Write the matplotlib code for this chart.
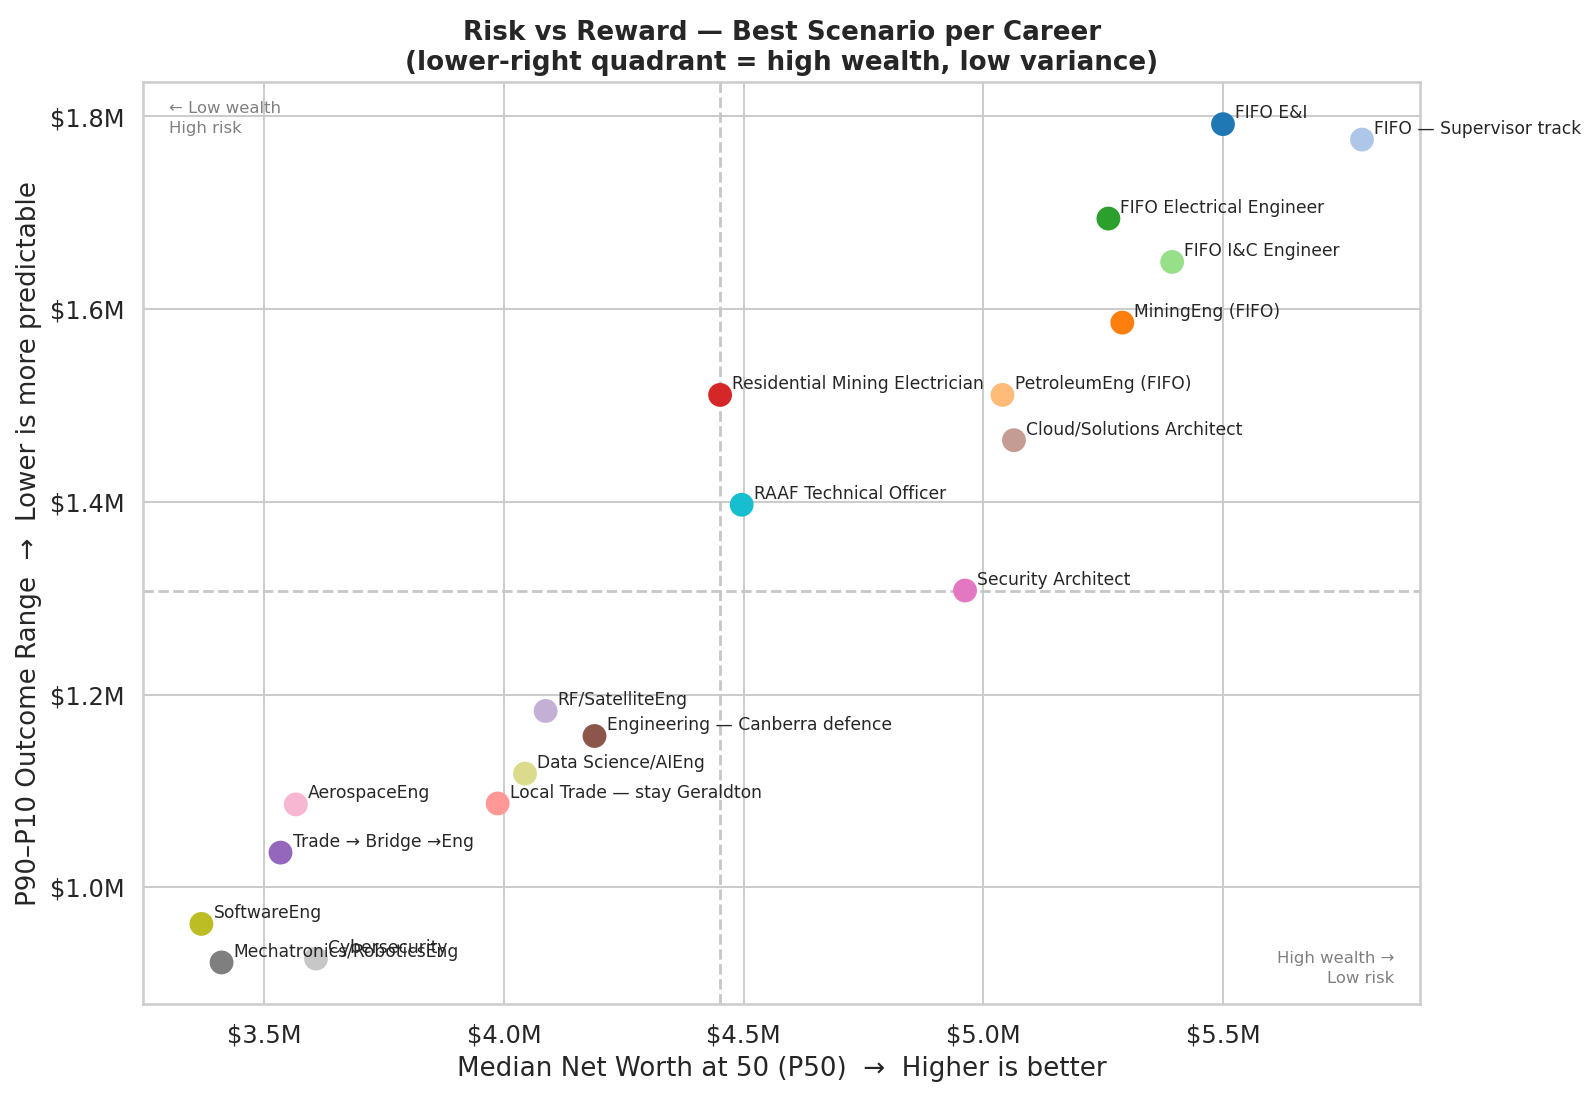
import numpy as np
import matplotlib
matplotlib.use("Agg")
import matplotlib.pyplot as plt
import seaborn as sns
from matplotlib.ticker import FuncFormatter, MultipleLocator

# best scenario per career, values in $M
careers = ["FIFO E&I", "FIFO — Supervisor track", "MiningEng (FIFO)", "PetroleumEng (FIFO)",
           "FIFO Electrical Engineer", "FIFO I&C Engineer", "Residential Mining Electrician",
           "Local Trade — stay Geraldton", "Trade → Bridge →Eng", "RF/SatelliteEng",
           "Engineering — Canberra defence", "Cloud/Solutions Architect", "Security Architect",
           "AerospaceEng", "Mechatronics/RoboticsEng", "Cybersecurity", "SoftwareEng",
           "Data Science/AIEng", "RAAF Technical Officer"]
p50 = [5.500, 5.790, 5.290, 5.040, 5.261, 5.394, 4.451, 3.987, 3.534, 4.087,
       4.189, 5.064, 4.962, 3.566, 3.411, 3.608, 3.369, 4.044, 4.496]
spread = [1.792, 1.776, 1.586, 1.511, 1.694, 1.649, 1.511, 1.087, 1.036, 1.183,
          1.157, 1.464, 1.308, 1.086, 0.922, 0.926, 0.962, 1.118, 1.397]

sns.set_theme(style="whitegrid")
plt.rcParams['font.family'] = ['DejaVu Sans']

fig = plt.figure(figsize=(11.0, 7.58), dpi=145)
ax = fig.add_axes([0.0899, 0.0861, 0.8004, 0.839])

cols = [plt.cm.tab20(i) for i in range(len(careers))]
ax.scatter(p50, spread, s=140, c=cols, zorder=3, linewidths=0)

for name, x, y in zip(careers, p50, spread):
    ax.annotate(name, (x, y), xytext=(6, 3), textcoords='offset points',
                fontsize=8.5, color='.15')

ax.axvline(np.median(p50), color='.78', ls='--', lw=1.4, zorder=1)
ax.axhline(np.median(spread), color='.78', ls='--', lw=1.4, zorder=1)

ax.text(0.02, 0.98, "← Low wealth\nHigh risk", transform=ax.transAxes,
        ha='left', va='top', fontsize=8.2, color='gray', linespacing=1.45)
ax.text(0.98, 0.02, "High wealth →\nLow risk", transform=ax.transAxes,
        ha='right', va='bottom', fontsize=8.2, color='gray', linespacing=1.45)

ax.xaxis.set_major_locator(MultipleLocator(0.5))
ax.yaxis.set_major_locator(MultipleLocator(0.2))
ax.xaxis.set_major_formatter(FuncFormatter(lambda v, p: f"${v:.1f}M"))
ax.yaxis.set_major_formatter(FuncFormatter(lambda v, p: f"${v:.1f}M"))
ax.tick_params(labelsize=12)

ax.set_xlabel("Median Net Worth at 50 (P50)  →  Higher is better", fontsize=13)
ax.set_ylabel("P90–P10 Outcome Range  →  Lower is more predictable", fontsize=13)
ax.set_title("Risk vs Reward — Best Scenario per Career\n"
             "(lower-right quadrant = high wealth, low variance)",
             fontweight='bold', fontsize=13)

fig.savefig("out.png", dpi=145)
